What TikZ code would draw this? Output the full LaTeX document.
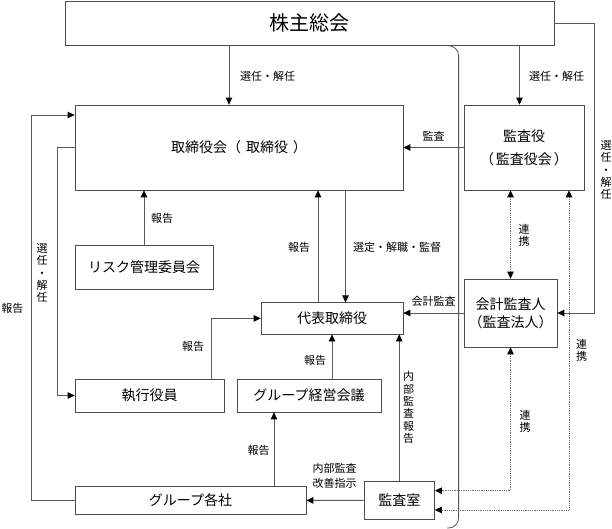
\documentclass[tikz,border=0pt]{standalone}
\usepackage{fontspec}
\setmainfont{Noto Sans CJK JP}
\usetikzlibrary{arrows.meta}
\begin{document}
\begin{tikzpicture}[x=1pt,y=-1pt,
  box/.style={draw=black!70, line width=0.7pt, inner sep=0pt, fill=white, font=\fontsize{14}{16}\selectfont},
  arr/.style={draw=black!65, line width=0.8pt, -{Triangle[length=7pt,width=6.5pt,color=black,fill=black]}},
  dar/.style={draw=black!55, line width=0.8pt, densely dotted, {Triangle[length=7pt,width=6.5pt,color=black,fill=black]}-{Triangle[length=7pt,width=6.5pt,color=black,fill=black]}},
  ln/.style={draw=black!65, line width=0.8pt},
  lbl/.style={inner sep=0pt, font=\fontsize{11}{12}\selectfont},
  vlbl/.style={inner sep=0pt, align=center, font=\fontsize{11}{12.3}\selectfont}
]
\useasboundingbox (0,0) rectangle (612,529);

% boxes
\node[box, minimum width=489pt, minimum height=44.7pt, font=\fontsize{20}{22}\selectfont] (share) at (309.5,23.4) {株主総会};
\node[box, minimum width=328pt, minimum height=85pt] (board) at (239,147.5) {取締役会（\hspace{5pt}取締役\hspace{5pt}）};
\node[box, minimum width=120pt, minimum height=85pt, align=center, font=\fontsize{14}{23}\selectfont] (kansa) at (524,147.5) {監査役\\（\hspace{2pt}監査役会\hspace{2pt}）};
\node[box, minimum width=138pt, minimum height=44pt] (risk) at (144,267) {リスク管理委員会};
\node[box, minimum width=142pt, minimum height=31.3pt] (rep) at (332,318.4) {代表取締役};
\node[box, minimum width=93pt, minimum height=68pt, align=center, font=\fontsize{14}{18}\selectfont] (auditor) at (510.5,313) {会計監査人\\（監査法人）};
\node[box, minimum width=149pt, minimum height=33pt] (exec) at (149.5,395.5) {執行役員};
\node[box, minimum width=144pt, minimum height=33pt] (gmeet) at (309,395.5) {グループ経営会議};
\node[box, minimum width=231pt, minimum height=27.3pt] (group) at (190.5,500.4) {グループ各社};
\node[box, minimum width=70.5pt, minimum height=37.3pt] (room) at (399.25,500.35) {監査室};

% bracket line
\draw[ln, rounded corners=10pt] (447,45.7) -- (458.6,45.7) -- (458.6,528) -- (447,528);

% connectors
\draw[arr] (229,0 |- share.south) -- (229,0 |- board.north);
\draw[arr] (519.5,0 |- share.south) -- (519.5,0 |- kansa.north);
\draw[arr] (kansa.west) -- (board.east);
\coordinate (rc) at (594,313);
\draw[arr] (share.east) -| (rc) -- (auditor.east);
\draw[arr] (risk.north) -- (risk.north |- board.south);
\draw[arr] (318,0 |- rep.north) -- (318,0 |- board.south);
\draw[arr] (345.5,0 |- board.south) -- (345.5,0 |- rep.north);
\draw[arr] (auditor.west) -- (auditor.west -| rep.east);
\draw[dar] (auditor.north) -- (auditor.north |- kansa.south);
\coordinate (ar1) at (room.east |- 0,490.7);
\coordinate (ar2) at (room.east |- 0,510);
\draw[dar] (auditor.south) |- (ar1);
\draw[dar] (569,0 |- kansa.south) |- (ar2);
\coordinate (lo) at (31,115);
\draw[arr] (group.west) -| (lo) -- (board.west |- lo);
\coordinate (li) at (57,0 |- board.west);
\draw[arr] (board.west) -- (li) |- (exec.west);
\draw[arr] (211,0 |- exec.north) |- (rep.west);
\draw[arr] (rep.south |- gmeet.north) -- (rep.south);
\draw[arr] (room.north) -- (room.north |- rep.south);
\draw[arr] (274,0 |- group.north) -- (274,0 |- gmeet.south);
\draw[arr] (room.west) -- (group.east);

% labels
\node[lbl] (l1) at (267.5,76) {選任・解任};
\node[lbl] (l2) at (556.5,76) {選任・解任};
\node[lbl] (l3) at (433.5,136) {監査};
\node[vlbl] (l4) at (606,170) {選\\任\\・\\解\\任};
\node[lbl] (l5) at (162,218) {報告};
\node[lbl] (l6) at (299,247) {報告};
\node[lbl] (l7) at (397,247) {選定・解職・監督};
\node[vlbl] (l8) at (524,235.5) {連\\携};
\node[lbl] (l9) at (433.5,301) {会計監査};
\node[vlbl] (l10) at (581.5,350) {連\\携};
\node[lbl] (l11) at (12.5,308) {報告};
\node[vlbl] (l12) at (42,273) {選\\任\\・\\解\\任};
\node[lbl] (l13) at (193,346) {報告};
\node[lbl] (l14) at (315,360.7) {報告};
\node[vlbl] (l15) at (408.5,407.5) {内\\部\\監\\査\\報\\告};
\node[lbl] (l16) at (258.5,450) {報告};
\node[lbl] (l17) at (334.5,468) {内部監査};
\node[lbl] (l18) at (334.5,483) {改善指示};
\node[vlbl] (l19) at (525,421) {連\\携};
\end{tikzpicture}
\end{document}
